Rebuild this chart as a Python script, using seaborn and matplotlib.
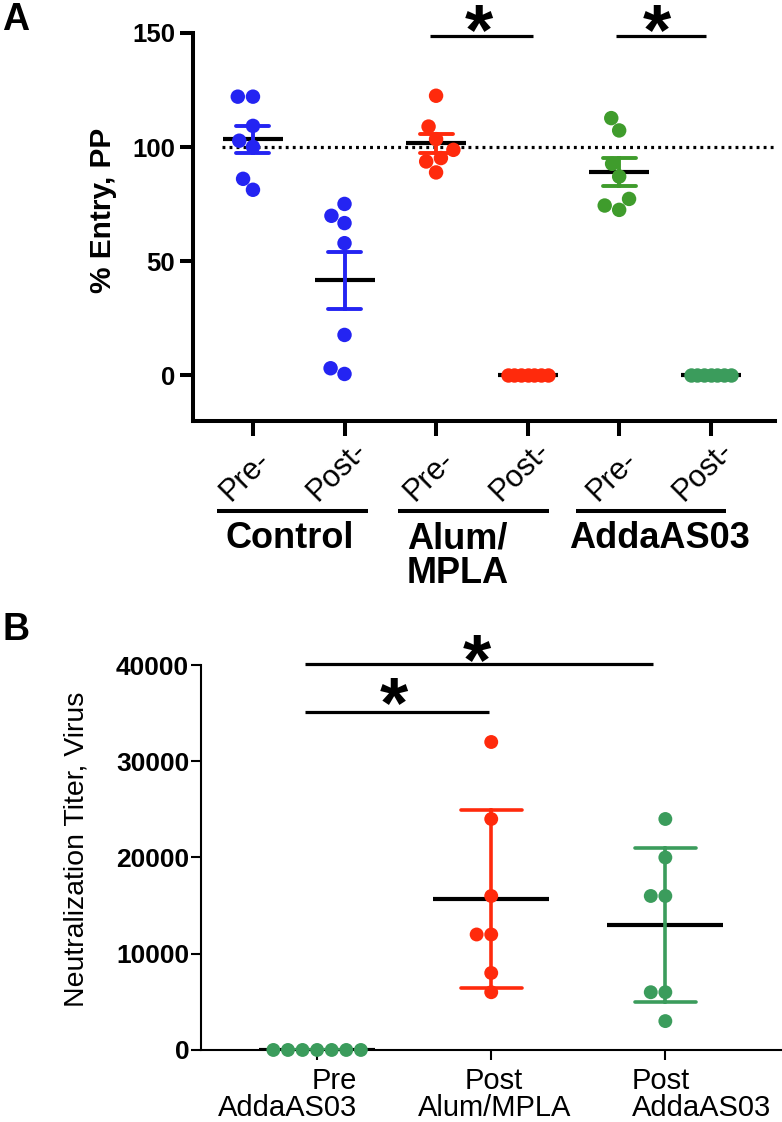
import numpy as np
import pandas as pd
import matplotlib
matplotlib.use("Agg")
import matplotlib.pyplot as plt
import seaborn as sns
from matplotlib.transforms import blended_transform_factory, ScaledTranslation

# ---------------- data: panel A ----------------
a_categories = ["Control Pre-", "Control Post-", "Alum Pre-", "Alum Post-",
                "AddaAS03 Pre-", "AddaAS03 Post-"]
a_tick_labels = ["Pre-", "Post-", "Pre-", "Post-", "Pre-", "Post-"]
a_group_labels = ["Control", "Alum/\nMPLA", "AddaAS03"]
control_pre = [122.1, 122.1, 109.3, 102.8, 100.1, 86.1, 81.3]
control_post = [75.1, 69.9, 66.7, 57.9, 17.7, 3.1, 0.6]
alum_pre = [122.5, 109.0, 103.5, 98.8, 95.2, 93.7, 88.9]
alum_post = [0, 0, 0, 0, 0, 0, 0]
adda_pre = [112.7, 107.3, 92.7, 87.1, 77.3, 72.5, 74.4]
adda_post = [0, 0, 0, 0, 0, 0, 0]
a_reference = 100

# ---------------- data: panel B ----------------
b_categories = ["Pre\nAddaAS03", "Post\nAlum/MPLA", "Post\nAddaAS03"]
b_pre_adda = [0, 0, 0, 0, 0, 0, 0]
b_post_alum = [32000, 24000, 16000, 12000, 12000, 8000, 6000]
b_post_adda = [24000, 20000, 16000, 16000, 6000, 6000, 3000]

BLUE = "#2424f2"
RED = "#ff2a0c"
GREEN_A = "#3f9c2c"
GREEN = "#3b9c5c"
a_colors = dict(zip(a_categories, [BLUE, BLUE, RED, RED, GREEN_A, GREEN]))
b_colors = dict(zip(b_categories, [GREEN, RED, GREEN]))

a_values = [control_pre, control_post, alum_pre, alum_post, adda_pre, adda_post]
dfA = pd.DataFrame({
    "cat": np.repeat(a_categories, [len(v) for v in a_values]),
    "val": np.concatenate(a_values),
    "rep": np.concatenate([np.arange(len(v)) for v in a_values]),
})
b_values = [b_pre_adda, b_post_alum, b_post_adda]
dfB = pd.DataFrame({
    "cat": np.repeat(b_categories, [len(v) for v in b_values]),
    "val": np.concatenate(b_values),
})

sns.set_theme(style="ticks")
plt.rcParams["font.family"] = ["Liberation Sans", "DejaVu Sans"]
plt.rcParams.update({"text.color": "black", "axes.labelcolor": "black",
                     "xtick.color": "black", "ytick.color": "black",
                     "axes.edgecolor": "black"})

fig = plt.figure(figsize=(7.82, 11.22), dpi=100)

# ================= Panel A =================
axA = fig.add_axes([0.2468, 0.6248, 0.7440, 0.3458])
axA.set_xlim(-0.655, 5.70)
axA.set_ylim(-20, 150)

axA.axhline(a_reference, xmin=0.05, xmax=1.0, color="black", lw=2.3,
            linestyle=(0, (0.9, 1.3)), zorder=1)

# mean lines
sns.pointplot(data=dfA, x="cat", y="val", order=a_categories, errorbar=None,
              color="black", markers="_", markersize=43, markeredgewidth=3,
              linestyle="none", ax=axA, zorder=2)
# points (non-zero groups swarm, zero groups packed in a row)
zero_cats = ["Alum Post-", "AddaAS03 Post-"]
sns.swarmplot(data=dfA[~dfA["cat"].isin(zero_cats)], x="cat", y="val",
              order=a_categories, hue="cat", palette=a_colors, size=10.4,
              linewidth=0, legend=False, ax=axA, zorder=3)
slots = [f"s{i}" for i in range(11)]
for cat in zero_cats:
    sub = dfA[dfA["cat"] == cat].copy()
    sub["slot"] = ["s%d" % (r + 2) for r in sub["rep"]]
    sns.stripplot(data=sub, x="cat", y="val", order=a_categories, hue="slot",
                  hue_order=slots, palette=[a_colors[cat]] * len(slots),
                  dodge=True, jitter=False, size=10.4, linewidth=0,
                  legend=False, ax=axA, zorder=3)
# SEM error bars
sns.pointplot(data=dfA, x="cat", y="val", order=a_categories, hue="cat",
              palette=a_colors, errorbar="se", capsize=0.36,
              err_kws={"linewidth": 2.8}, markers="o", markersize=0,
              linestyle="none", legend=False, ax=axA, zorder=4)

axA.set_xlim(-0.655, 5.70)
axA.set_ylim(-20, 150)
axA.set_yticks([0, 50, 100, 150])
axA.set_xticks(range(len(a_categories)))
axA.set_xticklabels([""] * len(a_categories))
axA.set_xlabel("")
for s in ["top", "right"]:
    axA.spines[s].set_visible(False)
for s in ["left", "bottom"]:
    axA.spines[s].set_linewidth(2.9)
axA.tick_params(axis="y", direction="out", length=9.4, width=2.9,
                labelsize=18.5, pad=3.5)
axA.tick_params(axis="x", direction="out", length=10.8, width=2.9)
for t in axA.get_yticklabels():
    t.set_fontweight("bold")
axA.set_ylabel("% Entry, PP", fontsize=21.5, fontweight="bold")
axA.yaxis.set_label_coords(-0.13, 0.544)

trA = blended_transform_factory(axA.transData, axA.transAxes)
for i, lab in enumerate(a_tick_labels):
    axA.text(i - 0.08, -0.221, lab, transform=trA, rotation=45,
             ha="center", va="bottom", fontsize=22)
group_spans = [(-0.39, 1.26), (1.58, 3.23), (3.53, 5.17)]
for x0, x1 in group_spans:
    axA.plot([x0, x1], [-0.232, -0.232], transform=trA, color="black",
             lw=2.9, clip_on=False, solid_capstyle="butt")
axA.text(0.40, -0.258, a_group_labels[0], transform=trA, ha="center",
         va="top", fontsize=26, fontweight="bold")
axA.text(1.68, -0.258, a_group_labels[1], transform=trA, ha="left",
         va="top", fontsize=26, fontweight="bold", linespacing=1.0)
axA.text(4.44, -0.258, a_group_labels[2], transform=trA, ha="center",
         va="top", fontsize=26, fontweight="bold")

# significance
for (x0, x1), xs in [((1.93, 3.06), 2.47), ((3.96, 4.95), 4.41)]:
    axA.plot([x0, x1], [148.7, 148.7], color="black", lw=2.3, clip_on=False,
             solid_capstyle="butt")
    axA.text(xs, 140.6, "*", ha="center", va="baseline", fontsize=52,
             fontweight="bold", clip_on=False)

# ================= Panel B =================
axB = fig.add_axes([0.257, 0.0642, 0.743, 0.3431])

sns.pointplot(data=dfB, x="cat", y="val", order=b_categories, errorbar=None,
              color="black", markers="_", markersize=83, markeredgewidth=3,
              linestyle="none", ax=axB, zorder=2)
sns.swarmplot(data=dfB, x="cat", y="val", order=b_categories, hue="cat",
              palette=b_colors, size=10, linewidth=0, legend=False,
              clip_on=False, ax=axB, zorder=3)
sns.pointplot(data=dfB, x="cat", y="val", order=b_categories, hue="cat",
              palette=b_colors, errorbar="sd", capsize=0.35,
              err_kws={"linewidth": 2.6}, markers="o", markersize=0,
              linestyle="none", legend=False, ax=axB, zorder=4)

axB.set_xlim(-0.667, 2.67)
axB.set_ylim(0, 40000)
axB.set_yticks([0, 10000, 20000, 30000, 40000])
axB.set_xlabel("")
for s in ["top", "right"]:
    axB.spines[s].set_visible(False)
for s in ["left", "bottom"]:
    axB.spines[s].set_linewidth(1.5)
axB.tick_params(axis="y", direction="out", length=7, width=1.5,
                labelsize=19, pad=1.5)
axB.tick_params(axis="x", direction="out", length=7, width=1.5,
                labelsize=21, pad=5)
for t in axB.get_yticklabels():
    t.set_fontweight("bold")
axB.set_xticks(range(len(b_categories)))
axB.set_xticklabels(b_categories)
aligns = ["right", "center", "left"]
shifts_px = [-30, 3, 36]
for lab, al, dx in zip(axB.get_xticklabels(), aligns, shifts_px):
    lab.set_multialignment(al)
    lab.set_linespacing(0.95)
    lab.set_transform(lab.get_transform() +
                      ScaledTranslation(dx / 100, 0, fig.dpi_scale_trans))
axB.set_ylabel("Neutralization Titer, Virus", fontsize=20.5)
axB.yaxis.set_label_coords(-0.191, 0.522)

for (x0, x1), y, xs, ys in [((-0.07, 1.93), 40100, 0.92, 38030),
                            ((-0.07, 0.99), 35100, 0.44, 33560)]:
    axB.plot([x0, x1], [y, y], color="black", lw=2.3, clip_on=False,
             solid_capstyle="butt")
    axB.text(xs, ys, "*", ha="center", va="baseline", fontsize=52,
             fontweight="bold", clip_on=False)

fig.text(0.003, 1 - 20 / 1122, "A", fontsize=27, fontweight="bold",
         ha="left", va="center")
fig.text(0.003, 1 - 630 / 1122, "B", fontsize=27, fontweight="bold",
         ha="left", va="center")

fig.savefig("out.png", dpi=100)
